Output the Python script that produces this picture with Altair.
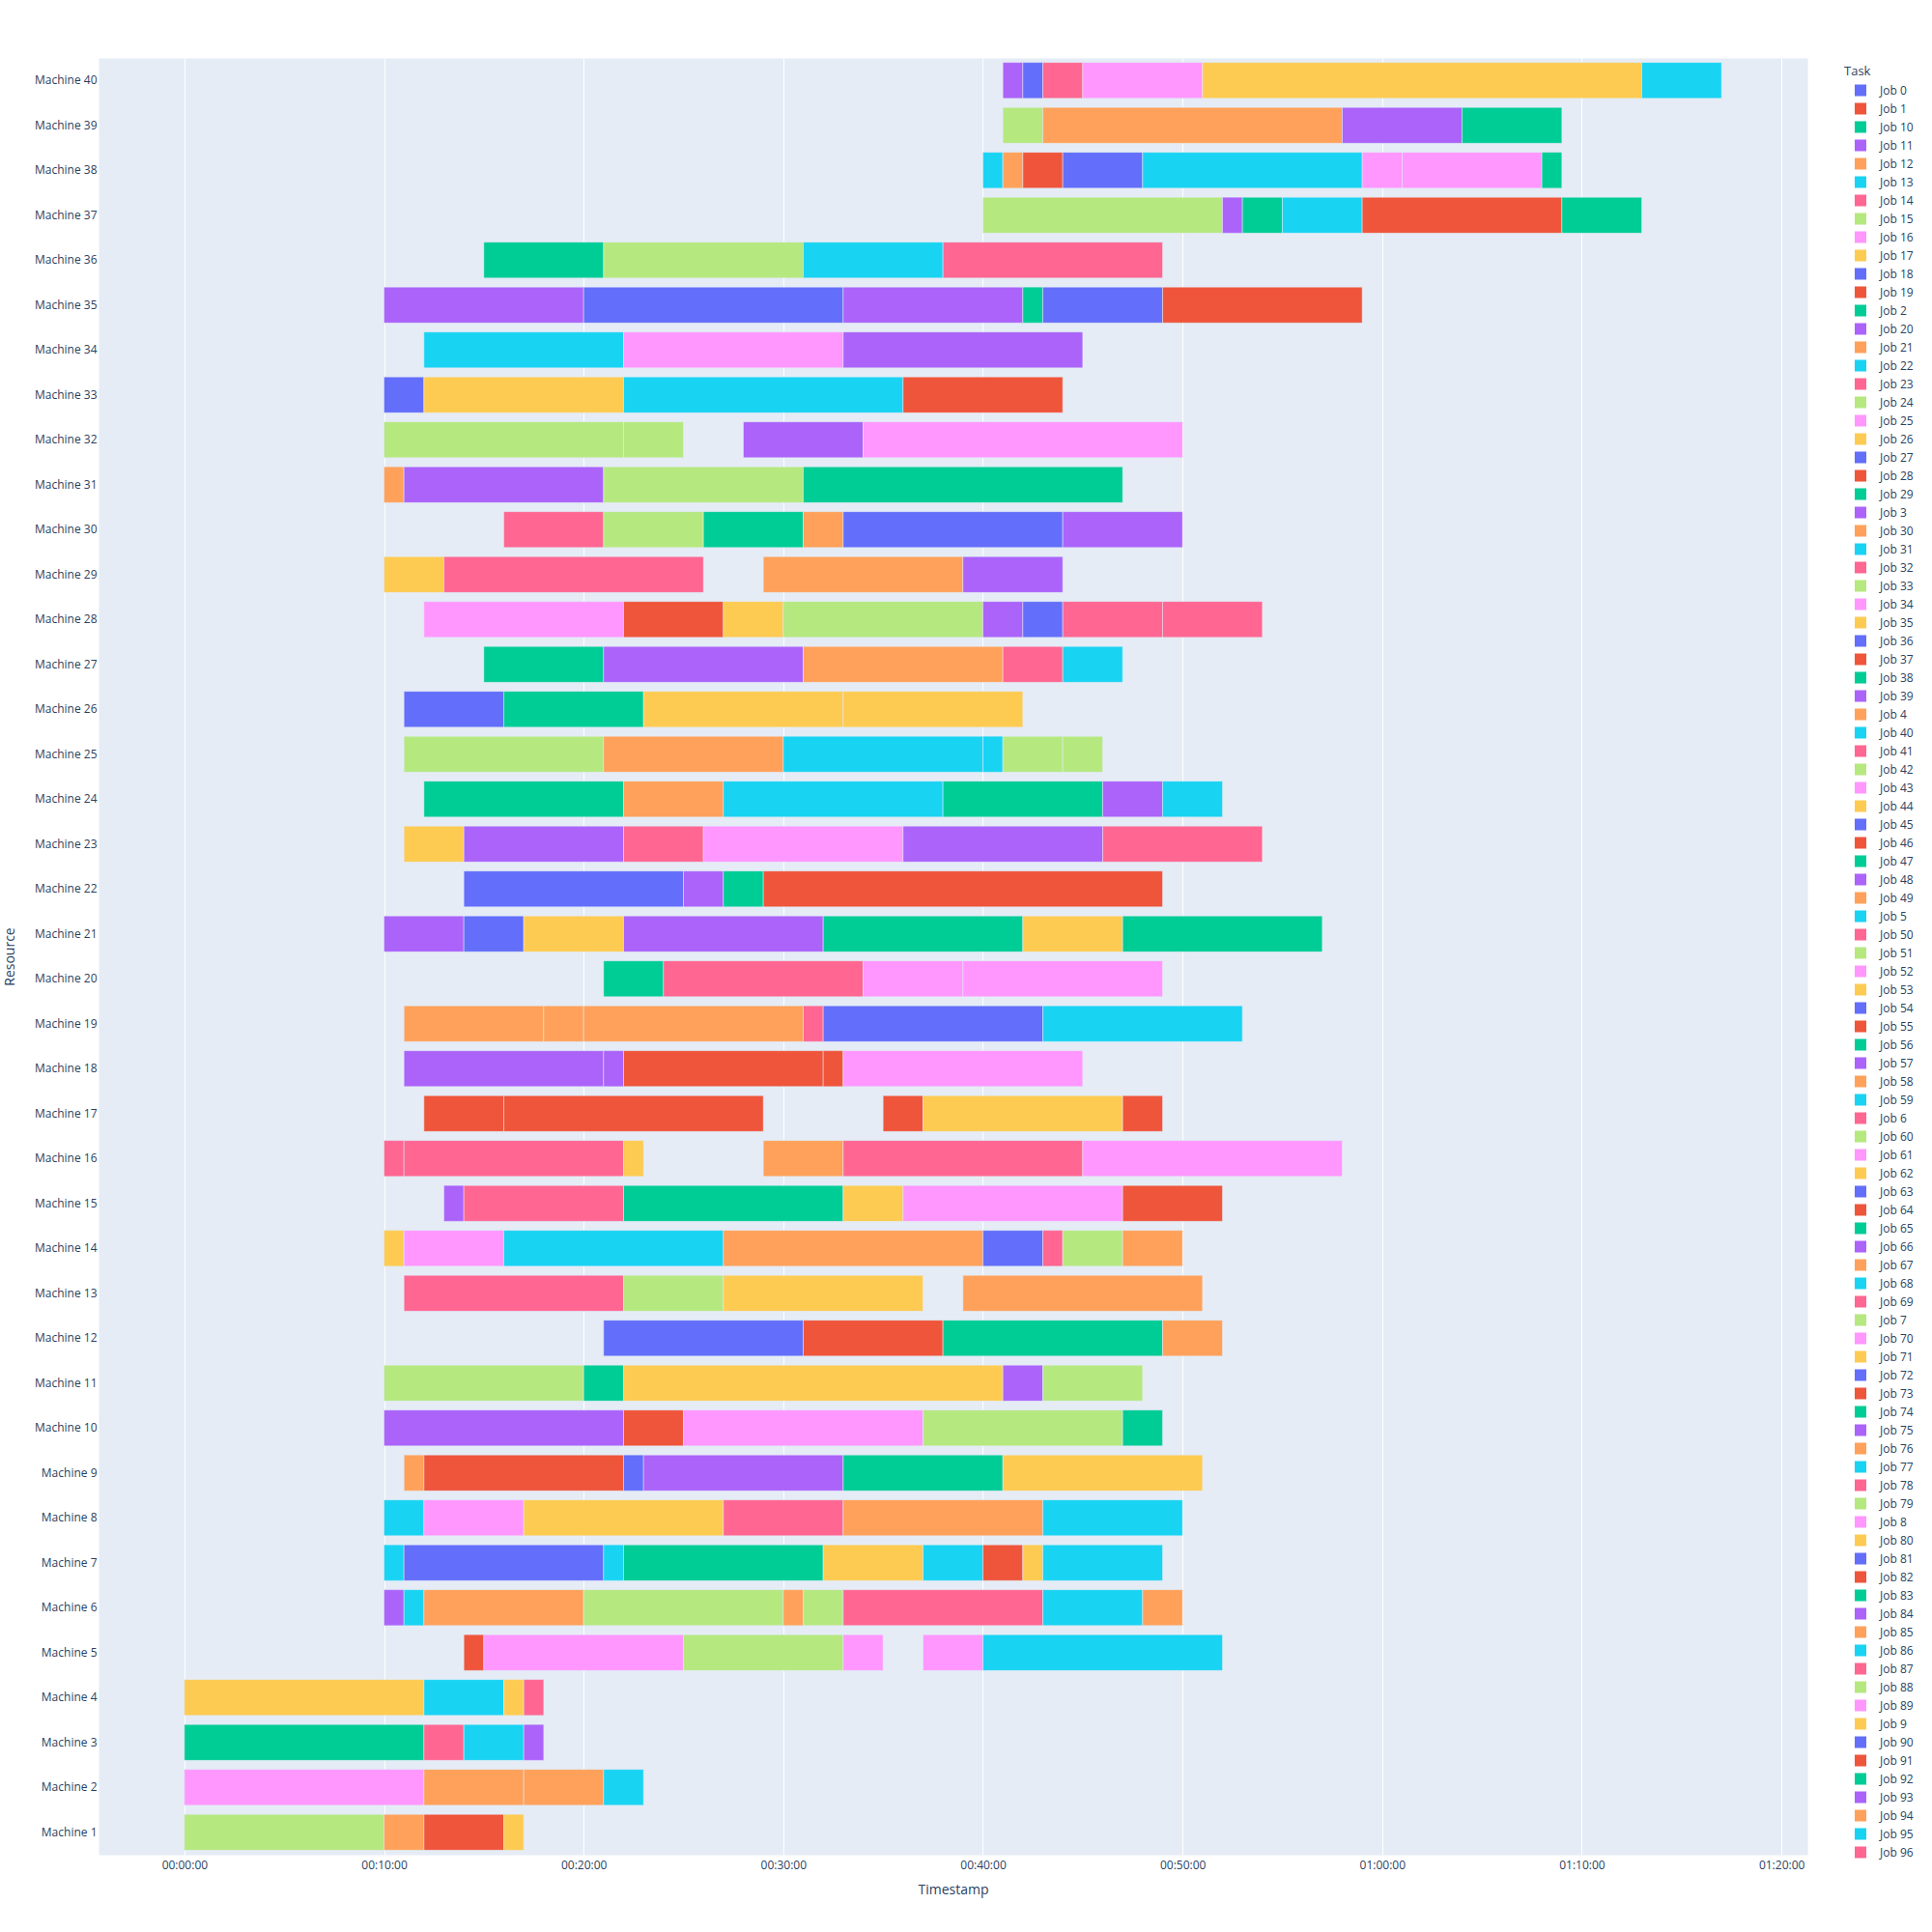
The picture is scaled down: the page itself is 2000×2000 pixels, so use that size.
import altair as alt
import pandas as pd

# Plotly qualitative palette (colour assigned by legend order)
PALETTE = ["#636EFA", "#EF553B", "#00CC96", "#AB63FA", "#FFA15A",
           "#19D3F3", "#FF6692", "#B6E880", "#FF97FF", "#FECB52"]

# Legend entries in the order shown (string-sorted job names)
JOBS = sorted([f"Job {i}" for i in range(97)])
JOB_COLORS = [PALETTE[i % len(PALETTE)] for i in range(len(JOBS))]

MACHINES = [f"Machine {i}" for i in range(40, 0, -1)]  # top to bottom
TICKS = [0, 10, 20, 30, 40, 50, 60, 70, 80]            # minutes

# (task, start minute, finish minute) per machine
m1 = [("Job 15", 0, 10), ("Job 12", 10, 12), ("Job 1", 12, 16), ("Job 17", 16, 17)]
m2 = [("Job 16", 0, 12), ("Job 21", 12, 17), ("Job 30", 17, 21), ("Job 13", 21, 23)]
m3 = [("Job 10", 0, 12), ("Job 14", 12, 14), ("Job 22", 14, 17), ("Job 11", 17, 18)]
m4 = [("Job 26", 0, 12), ("Job 31", 12, 16), ("Job 35", 16, 17), ("Job 23", 17, 18)]
m5 = [("Job 19", 14, 15), ("Job 25", 15, 25), ("Job 24", 25, 33), ("Job 34", 33, 35),
      ("Job 43", 37, 40), ("Job 40", 40, 52)]
m6 = [("Job 20", 10, 11), ("Job 5", 11, 12), ("Job 4", 12, 20), ("Job 33", 20, 30),
      ("Job 49", 30, 31), ("Job 42", 31, 33), ("Job 32", 33, 43), ("Job 59", 43, 48),
      ("Job 58", 48, 50)]
m7 = [("Job 68", 10, 11), ("Job 0", 11, 21), ("Job 77", 21, 22), ("Job 2", 22, 32),
      ("Job 44", 32, 37), ("Job 86", 37, 40), ("Job 28", 40, 42), ("Job 53", 42, 43),
      ("Job 95", 43, 49)]
m8 = [("Job 13", 10, 12), ("Job 52", 12, 17), ("Job 62", 17, 27), ("Job 41", 27, 33),
      ("Job 67", 33, 43), ("Job 22", 43, 50)]
m9 = [("Job 76", 11, 12), ("Job 37", 12, 22), ("Job 18", 22, 23), ("Job 3", 23, 33),
      ("Job 29", 33, 41), ("Job 71", 41, 51)]
m10 = [("Job 39", 10, 22), ("Job 46", 22, 25), ("Job 61", 25, 37), ("Job 51", 37, 47),
       ("Job 38", 47, 49)]
m11 = [("Job 60", 10, 20), ("Job 47", 20, 22), ("Job 80", 22, 41), ("Job 48", 41, 43),
       ("Job 7", 43, 48)]
m12 = [("Job 27", 21, 31), ("Job 55", 31, 38), ("Job 56", 38, 49), ("Job 85", 49, 52)]
m13 = [("Job 50", 11, 22), ("Job 79", 22, 27), ("Job 9", 27, 37), ("Job 94", 39, 51)]
m14 = [("Job 17", 10, 11), ("Job 70", 11, 16), ("Job 31", 16, 27), ("Job 12", 27, 40),
       ("Job 36", 40, 43), ("Job 6", 43, 44), ("Job 88", 44, 47), ("Job 21", 47, 50)]
m15 = [("Job 57", 13, 14), ("Job 69", 14, 22), ("Job 65", 22, 33), ("Job 26", 33, 36),
       ("Job 8", 36, 47), ("Job 64", 47, 52)]
m16 = [("Job 78", 10, 11), ("Job 87", 11, 22), ("Job 35", 22, 23), ("Job 30", 29, 33),
       ("Job 96", 33, 45), ("Job 89", 45, 58)]
m17 = [("Job 73", 12, 16), ("Job 82", 16, 29), ("Job 91", 35, 37), ("Job 44", 37, 47),
       ("Job 1", 47, 49)]
m18 = [("Job 66", 11, 21), ("Job 75", 21, 22), ("Job 19", 22, 32), ("Job 28", 32, 33),
       ("Job 16", 33, 45)]
m19 = [("Job 4", 11, 18), ("Job 49", 18, 20), ("Job 58", 20, 31), ("Job 14", 31, 32),
       ("Job 45", 32, 43), ("Job 40", 43, 53)]
m20 = [("Job 74", 21, 24), ("Job 23", 24, 34), ("Job 25", 34, 39), ("Job 34", 39, 49)]
m21 = [("Job 84", 10, 14), ("Job 54", 14, 17), ("Job 53", 17, 22), ("Job 93", 22, 32),
       ("Job 83", 32, 42), ("Job 62", 42, 47), ("Job 92", 47, 57)]
m22 = [("Job 63", 14, 25), ("Job 11", 25, 27), ("Job 10", 27, 29), ("Job 37", 29, 49)]
m23 = [("Job 71", 11, 14), ("Job 20", 14, 22), ("Job 32", 22, 26), ("Job 43", 26, 36),
       ("Job 3", 36, 46), ("Job 41", 46, 54)]
m24 = [("Job 2", 12, 22), ("Job 67", 22, 27), ("Job 5", 27, 38), ("Job 29", 38, 46),
       ("Job 39", 46, 49), ("Job 59", 49, 52)]
m25 = [("Job 15", 11, 21), ("Job 76", 21, 30), ("Job 68", 30, 40), ("Job 77", 40, 41),
       ("Job 24", 41, 44), ("Job 33", 44, 46)]
m26 = [("Job 72", 11, 16), ("Job 38", 16, 23), ("Job 80", 23, 33), ("Job 9", 33, 42)]
m27 = [("Job 47", 15, 21), ("Job 48", 21, 31), ("Job 85", 31, 41), ("Job 50", 41, 44),
       ("Job 86", 44, 47)]
m28 = [("Job 52", 12, 22), ("Job 46", 22, 27), ("Job 17", 27, 30), ("Job 42", 30, 40),
       ("Job 57", 40, 42), ("Job 81", 42, 44), ("Job 6", 44, 49), ("Job 69", 49, 54)]
m29 = [("Job 26", 10, 13), ("Job 78", 13, 26), ("Job 94", 29, 39), ("Job 66", 39, 44)]
m30 = [("Job 87", 16, 21), ("Job 51", 21, 26), ("Job 56", 26, 31), ("Job 12", 31, 33),
       ("Job 90", 33, 44), ("Job 75", 44, 50)]
m31 = [("Job 21", 10, 11), ("Job 84", 11, 21), ("Job 60", 21, 31), ("Job 65", 31, 47)]
m32 = [("Job 7", 10, 22), ("Job 79", 22, 25), ("Job 93", 28, 34), ("Job 61", 34, 50)]
m33 = [("Job 0", 10, 12), ("Job 35", 12, 22), ("Job 95", 22, 36), ("Job 55", 36, 44)]
m34 = [("Job 13", 12, 22), ("Job 70", 22, 33), ("Job 11", 33, 45)]
m35 = [("Job 20", 10, 20), ("Job 18", 20, 33), ("Job 3", 33, 42), ("Job 74", 42, 43),
       ("Job 27", 43, 49), ("Job 64", 49, 59)]
m36 = [("Job 83", 15, 21), ("Job 88", 21, 31), ("Job 22", 31, 38), ("Job 96", 38, 49)]
m37 = [("Job 15", 40, 52), ("Job 39", 52, 53), ("Job 92", 53, 55), ("Job 31", 55, 59),
       ("Job 73", 59, 69), ("Job 10", 69, 73)]
m38 = [("Job 40", 40, 41), ("Job 30", 41, 42), ("Job 82", 42, 44), ("Job 36", 44, 48),
       ("Job 5", 48, 59), ("Job 8", 59, 61), ("Job 89", 61, 68), ("Job 2", 68, 69)]
m39 = [("Job 24", 41, 43), ("Job 4", 43, 58), ("Job 48", 58, 64), ("Job 29", 64, 69)]
m40 = [("Job 57", 41, 42), ("Job 45", 42, 43), ("Job 14", 43, 45), ("Job 16", 45, 51),
       ("Job 44", 51, 73), ("Job 59", 73, 77)]

SCHEDULE = [m1, m2, m3, m4, m5, m6, m7, m8, m9, m10, m11, m12, m13, m14, m15, m16,
            m17, m18, m19, m20, m21, m22, m23, m24, m25, m26, m27, m28, m29, m30,
            m31, m32, m33, m34, m35, m36, m37, m38, m39, m40]

rows = []
for i, segs in enumerate(SCHEDULE, start=1):
    for job, s, e in segs:
        rows.append({"Resource": f"Machine {i}", "Task": job, "Start": s, "Finish": e})
df = pd.DataFrame(rows)

FONT = "Open Sans"
TXT = "#2a3f5f"

x_axis = alt.Axis(
    values=TICKS,
    labelExpr="utcFormat(datum.value * 60000, '%H:%M:%S')",
    grid=True, gridColor="white", gridWidth=1,
    domain=False, ticks=False, tickSize=0,
    labelPadding=5, labelFont=FONT, labelFontSize=12, labelColor=TXT,
    title="Timestamp", titleFont=FONT, titleFontSize=14, titleFontWeight="normal",
    titleColor=TXT, titlePadding=13,
)
y_axis = alt.Axis(
    grid=False, domain=False, ticks=False, tickSize=0,
    labelPadding=2, labelFont=FONT, labelFontSize=12, labelColor=TXT,
    title="Resource", titleFont=FONT, titleFontSize=14, titleFontWeight="normal",
    titleColor=TXT, titlePadding=18,
)
legend = alt.Legend(
    orient="none", legendX=1807, legendY=8, direction="vertical", columns=1,
    title="Task", titleFont=FONT, titleFontSize=13, titleFontWeight="normal",
    titleColor=TXT, titlePadding=5,
    labelFont=FONT, labelFontSize=12, labelColor=TXT, labelOffset=14,
    symbolType="square", symbolSize=144, symbolStrokeWidth=0, symbolOffset=11,
    rowPadding=4, clipHeight=15, symbolLimit=200, padding=0,
)

chart = alt.Chart(df).mark_bar(stroke="#E5ECF6", strokeWidth=0.5).encode(
    x=alt.X("Start:Q", scale=alt.Scale(domain=[-4.3, 81.3], nice=False, zero=False),
            axis=x_axis),
    x2="Finish:Q",
    y=alt.Y("Resource:N", sort=MACHINES,
            scale=alt.Scale(paddingInner=0.2, paddingOuter=0.1), axis=y_axis),
    color=alt.Color("Task:N", scale=alt.Scale(domain=JOBS, range=JOB_COLORS),
                    legend=legend),
).properties(
    width=1769, height=1860,
    autosize=alt.AutoSizeParams(type="none"),
    padding={"left": 102, "top": 60, "right": 129, "bottom": 80},
    background="white",
).configure_view(fill="#E5ECF6", stroke="transparent")

chart.save("out.html", embed_options={"renderer": "svg", "actions": False})
